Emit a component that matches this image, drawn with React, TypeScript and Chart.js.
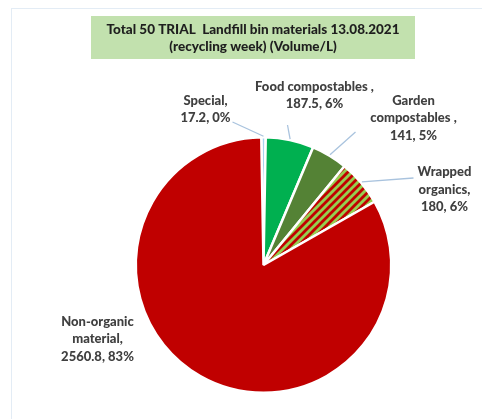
import React, { useEffect, useRef } from "react";
import { Chart, registerables } from "chart.js";

Chart.register(...registerables);

// ---- data ----
const categories = ["Special", "Food compostables", "Garden compostables", "Wrapped organics", "Non-organic material"];
const volumes = [17.2, 187.5, 141, 180, 2560.8];
const percents = ["0%", "6%", "5%", "6%", "83%"];
const nameLines = [
  ["Special,"],
  ["Food compostables ,"],
  ["Garden", "compostables ,"],
  ["Wrapped", "organics,"],
  ["Non-organic", "material,"],
];
const titleLines = ["Total 50 TRIAL  Landfill bin materials 13.08.2021", "(recycling week) (Volume/L)"];

// ---- layout / style ----
const W = 482;
const H = 419;
const labelOffsets = [
  [-58, -155.5],
  [51, -169.5],
  [150, -147],
  [181, -75.5],
  [-166, 74],
];
const leaderEnds: (number[] | null)[] = [
  [-31, -143],
  [24, -140],
  [92, -133],
  [150, -87],
  null,
];

function makeStripePattern(): CanvasPattern | string {
  const c = document.createElement("canvas");
  const s = 8;
  c.width = s;
  c.height = s;
  const x = c.getContext("2d");
  if (!x) return "#92D050";
  x.fillStyle = "#95CF50";
  x.fillRect(0, 0, s, s);
  x.strokeStyle = "#C00000";
  x.lineWidth = 2.8;
  x.beginPath();
  for (const o of [-s, 0, s]) {
    x.moveTo(o - 1, s + 1);
    x.lineTo(o + s + 1, -1);
  }
  x.stroke();
  const ctx = document.createElement("canvas").getContext("2d");
  return ctx ? (ctx.createPattern(c, "repeat") as CanvasPattern) : "#92D050";
}

const labelPlugin = {
  id: "customLabels",
  beforeDraw(chart: any) {
    const ctx = chart.ctx as CanvasRenderingContext2D;
    ctx.save();
    ctx.fillStyle = "#ffffff";
    ctx.fillRect(0, 0, W, H);
    // faint frame
    ctx.strokeStyle = "#E3ECF5";
    ctx.lineWidth = 1;
    ctx.strokeRect(11.5, 8.5, 600, 600);
    // title box
    ctx.fillStyle = "#C2E1AE";
    ctx.fillRect(91, 16, 324, 43);
    ctx.fillStyle = "#1E1E1E";
    ctx.font = "900 13.5px Lato";
    ctx.textAlign = "center";
    ctx.textBaseline = "middle";
    ctx.fillText(titleLines[0], 253, 30, 318);
    ctx.fillText(titleLines[1], 253, 47, 318);
    ctx.restore();
  },
  afterDraw(chart: any) {
    const ctx = chart.ctx as CanvasRenderingContext2D;
    const meta = chart.getDatasetMeta(0);
    ctx.save();
    ctx.font = "900 13px Lato";
    ctx.textAlign = "center";
    ctx.textBaseline = "middle";
    const lh = 17.5;
    meta.data.forEach((arc: any, i: number) => {
      const { x, y, startAngle, endAngle, outerRadius } = arc.getProps(
        ["x", "y", "startAngle", "endAngle", "outerRadius"],
        true
      );
      const end = leaderEnds[i];
      if (end) {
        const mid = (startAngle + endAngle) / 2;
        const sx = x + Math.cos(mid) * (outerRadius + 1);
        const sy = y + Math.sin(mid) * (outerRadius + 1);
        ctx.strokeStyle = "#A9C3DE";
        ctx.lineWidth = 1.3;
        ctx.beginPath();
        ctx.moveTo(sx, sy);
        ctx.lineTo(x + end[0], y + end[1]);
        ctx.stroke();
      }
      const lines = [...nameLines[i], `${volumes[i]}, ${percents[i]}`];
      const cx = x + labelOffsets[i][0];
      const cy = y + labelOffsets[i][1];
      ctx.fillStyle = "#404040";
      lines.forEach((t, k) => {
        ctx.fillText(t, cx, cy + (k - (lines.length - 1) / 2) * lh);
      });
    });
    ctx.restore();
  },
};

export default function App() {
  const ref = useRef<HTMLCanvasElement | null>(null);
  useEffect(() => {
    if (!ref.current) return;
    const chart = new Chart(ref.current, {
      type: "pie",
      data: {
        labels: categories,
        datasets: [
          {
            data: volumes,
            backgroundColor: ["#A9D3EE", "#00B050", "#548235", makeStripePattern(), "#C00000"],
            borderColor: "#ffffff",
            borderWidth: 2.5,
          },
        ],
      },
      options: {
        responsive: false,
        animation: false,
        rotation: -1,
        layout: { padding: { left: 134, right: 89, top: 136, bottom: 25 } },
        plugins: {
          legend: { display: false },
          tooltip: { enabled: false },
          title: { display: false },
        },
        events: [],
      },
      plugins: [labelPlugin],
    });
    return () => chart.destroy();
  }, []);
  return (
    <div style={{ position: "absolute", left: 0, top: 0, width: W, height: H }}>
      <canvas ref={ref} width={W} height={H} style={{ width: W, height: H, display: "block" }} />
    </div>
  );
}
